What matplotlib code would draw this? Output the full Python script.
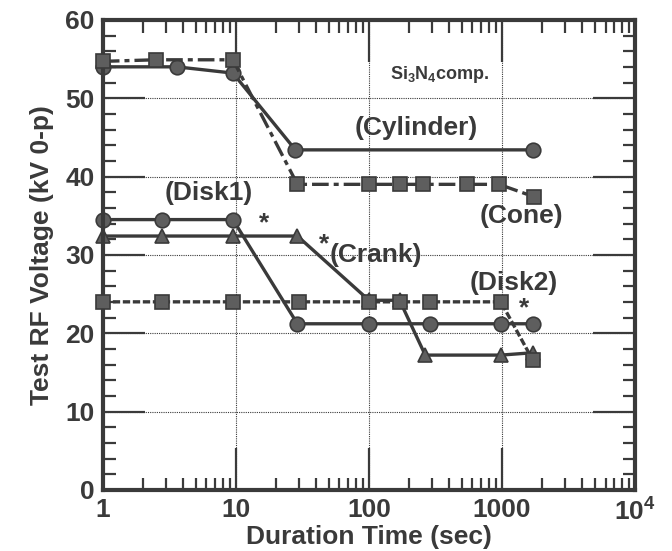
import numpy as np
import matplotlib
matplotlib.use("Agg")
import matplotlib.pyplot as plt
from matplotlib.ticker import FixedLocator, FixedFormatter, LogLocator, MultipleLocator, NullFormatter

plt.rcParams["font.family"] = ["Liberation Sans", "DejaVu Sans"]
plt.rcParams["font.weight"] = "bold"
plt.rcParams["axes.labelweight"] = "bold"
plt.rcParams["mathtext.default"] = "regular"

# data
cyl_t = [1, 3.6, 9.5, 28, 1700]
cyl_v = [54.0, 54.0, 53.2, 43.4, 43.4]

cone_t = [1, 2.5, 9.5, 29, 100, 170, 255, 550, 950, 1750]
cone_v = [54.7, 54.9, 54.9, 39.0, 39.0, 39.0, 39.0, 39.0, 39.0, 37.4]

disk1_t = [1, 2.8, 9.5, 29, 100, 290, 980, 1700]
disk1_v = [34.5, 34.5, 34.5, 21.2, 21.2, 21.2, 21.2, 21.2]

crank_t = [1, 2.8, 9.5, 29, 100, 170, 265, 980, 1700]
crank_v = [32.4, 32.4, 32.4, 32.4, 24.2, 24.2, 17.2, 17.2, 17.5]

disk2_t = [1, 2.8, 9.5, 30, 100, 170, 290, 980, 1700]
disk2_v = [24.0, 24.0, 24.0, 24.0, 24.0, 24.0, 24.0, 24.0, 16.6]

xticks = [1, 10, 100, 1000, 10000]
xticklabels = ["1", "10", "100", "1000", "$10^4$"]

ink = "#3a3a3a"
fill = "#5e5e5e"

fig = plt.figure(figsize=(6.72, 5.51), dpi=100)
ax = fig.add_axes([0.153, 0.111, 0.792, 0.853])
ax.set_xscale("log")
ax.set_xlim(1, 10000)
ax.set_ylim(0, 60)

mk = dict(color=ink, lw=2.4, markerfacecolor=fill, markeredgecolor=ink,
          markeredgewidth=1.2, clip_on=False)
ax.plot(disk2_t, disk2_v, ls=(0, (2.2, 0.8)), marker="s", ms=10, zorder=3, **mk)
ax.plot(crank_t, crank_v, ls="-", marker="^", ms=10.5, zorder=2, **mk)
ax.plot(disk1_t, disk1_v, ls="-", marker="o", ms=10.5, zorder=2, **mk)
ax.plot(cone_t, cone_v, ls=(0, (5, 1.5, 1.5, 1.5)), marker="s", ms=10, zorder=3, **mk)
ax.plot(cyl_t, cyl_v, ls="-", marker="o", ms=10.5, zorder=2, **mk)

# grid
for gx in [10, 100, 1000]:
    ax.axvline(gx, color=ink, lw=0.8, ls=(0, (1, 1)), zorder=1)
for gy in [10, 20, 30, 40, 50]:
    ax.axhline(gy, color=ink, lw=0.8, ls=(0, (1, 1)), zorder=1)

# ticks
ax.xaxis.set_major_locator(FixedLocator(xticks))
ax.xaxis.set_major_formatter(FixedFormatter(xticklabels))
ax.xaxis.set_minor_locator(LogLocator(base=10, subs=np.arange(2, 10)))
ax.xaxis.set_minor_formatter(NullFormatter())
ax.yaxis.set_major_locator(MultipleLocator(10))
ax.yaxis.set_minor_locator(MultipleLocator(2))
ax.tick_params(which="major", direction="in", length=30, width=1.6, color=ink,
               top=True, right=True, labelsize=19, labelcolor=ink, pad=6)
ax.tick_params(which="minor", direction="in", length=9, width=1.6, color=ink,
               top=True, right=True)
for s in ax.spines.values():
    s.set_linewidth(3)
    s.set_color(ink)

ax.set_xlabel("Duration Time (sec)", fontsize=19, color=ink, labelpad=0)
ax.set_ylabel("Test RF Voltage (kV 0-p)", fontsize=19, color=ink, labelpad=8)

# annotations
tkw = dict(fontsize=19, color=ink, va="center", ha="left")
ax.text(144, 53.0, "Si$_3$N$_4$comp.", fontsize=13, color=ink, va="center")
ax.text(78, 46.2, "(Cylinder)", **tkw)
ax.text(684, 34.9, "(Cone)", **tkw)
ax.text(2.9, 37.9, "(Disk1)", **tkw)
ax.text(51, 30.0, "(Crank)", **tkw)
ax.text(575, 26.4, "(Disk2)", **tkw)
ax.text(15.0, 34.0, "*", **tkw)
ax.text(42, 31.3, "*", **tkw)
ax.text(1350, 23.2, "*", **tkw)

fig.savefig("out.png", dpi=100)
